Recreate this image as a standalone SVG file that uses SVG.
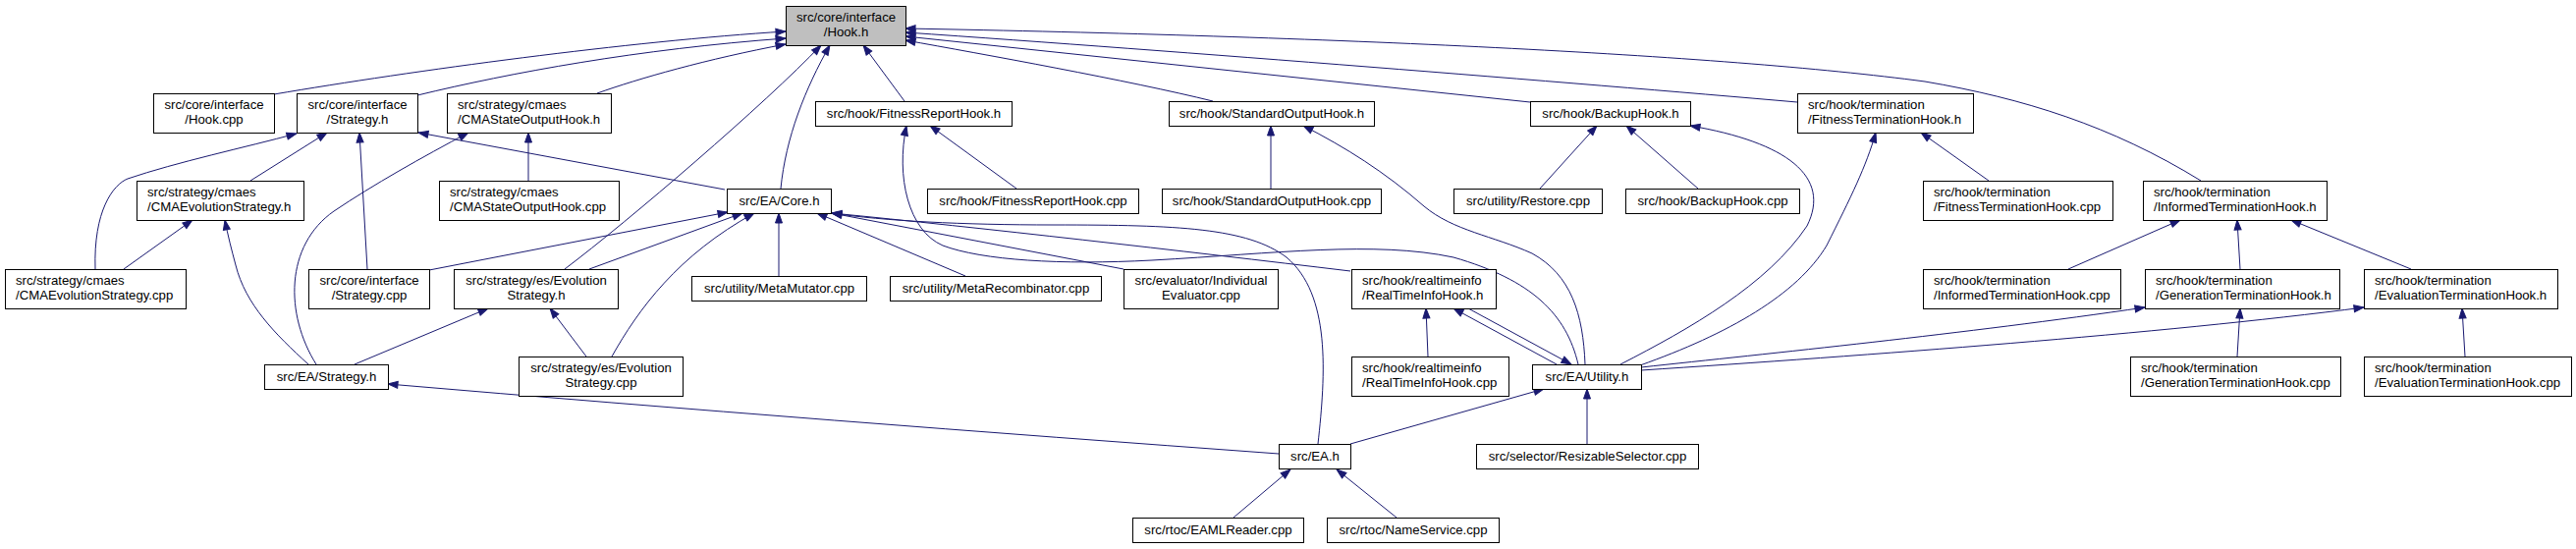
<svg xmlns="http://www.w3.org/2000/svg" width="2623" height="559" viewBox="0 0 2623 559">
<style>
.n rect{fill:#fff;stroke:#000;stroke-width:1}
.n.root rect{fill:#bfbfbf}
text{font-family:"Liberation Sans",Arial,Helvetica,sans-serif;font-size:13.2px;fill:#000}
.c{text-anchor:middle}
#edges path{fill:none;stroke:#191970;stroke-width:1;marker-end:url(#a)}
</style>
<defs>
<marker id="a" markerWidth="10" markerHeight="7" refX="10" refY="3.5" orient="auto" markerUnits="userSpaceOnUse" overflow="visible">
<path d="M0,0 L10,3.5 L0,7 z" fill="#191970" stroke="#191970" stroke-width="1"/>
</marker>
</defs>
<rect width="2623" height="559" fill="#fff"/>
<g id="edges">
<path d="M279,96 C420,72 640,42 800,32"/>
<path d="M425,97 C520,74 650,50 800,39"/>
<path d="M608,95 C650,80 720,60 800,45"/>
<path d="M575,274 C640,225 780,105 836,46"/>
<path d="M795,192 C800,140 820,90 845,46"/>
<path d="M921,103 L879,46"/>
<path d="M1235,103 C1150,82 1000,55 922,41"/>
<path d="M1558,104 L922,37"/>
<path d="M2241,184 C2150,128 2060,100 1960,83 C1750,55 1350,37 922,29"/>
<path d="M1830,104 C1600,84 1200,52 922,33"/>
<path d="M97,274 C95,215 115,188 130,182 C180,165 250,150 302,136"/>
<path d="M255,184 L333,135"/>
<path d="M374,274 L366,135"/>
<path d="M738,193 L426,135"/>
<path d="M538,184 L538,135"/>
<path d="M322,371 C290,320 290,250 340,215 C380,188 430,160 477,135"/>
<path d="M314,371 C280,340 250,310 240,270 C236,255 232,240 229,224"/>
<path d="M126,274 L196,224"/>
<path d="M361,371 L497,314"/>
<path d="M597,363 L560,314"/>
<path d="M1302,462 C1000,440 700,417 395,391"/>
<path d="M437,275 L741,216"/>
<path d="M600,274 L756,217"/>
<path d="M623,363 C650,315 690,260 768,217"/>
<path d="M793,281 L793,217"/>
<path d="M983,281 L832,217"/>
<path d="M1144,274 L847,217"/>
<path d="M1375,276 C1200,255 1000,232 847,217"/>
<path d="M1342,452 C1350,380 1355,300 1310,262 C1270,232 1200,229 1073,229 C980,229 900,225 847,217"/>
<path d="M1035,192 L947,128"/>
<path d="M1607,371 C1595,320 1560,285 1480,262 C1400,245 1300,258 1173,265 C1080,270 1000,265 960,250 C925,235 912,180 923,128"/>
<path d="M1294,192 L1294,128"/>
<path d="M1614,371 C1612,320 1600,280 1560,258 C1520,240 1480,235 1450,210 C1410,175 1370,150 1327,128"/>
<path d="M1568,192 L1626,128"/>
<path d="M1729,192 L1656,128"/>
<path d="M1650,371 C1720,335 1800,290 1840,230 C1865,180 1820,145 1721,128"/>
<path d="M2025,184 L1956,135"/>
<path d="M1670,372 C1760,340 1830,300 1860,250 C1885,200 1900,170 1910,135"/>
<path d="M2106,274 L2220,224"/>
<path d="M2281,274 L2278,224"/>
<path d="M2455,274 L2333,224"/>
<path d="M2278,363 L2281,314"/>
<path d="M2510,363 L2507,314"/>
<path d="M1671,374 C1800,360 2000,340 2184,313"/>
<path d="M1671,377 C1900,362 2200,340 2407,313"/>
<path d="M1454,363 L1452,314"/>
<path d="M1585,371 L1480,314"/>
<path d="M1495,314 L1600,371"/>
<path d="M1616,452 L1616,396"/>
<path d="M1375,452 L1572,396"/>
<path d="M1256,527 L1314,478"/>
<path d="M1422,527 L1361,478"/>
</g>
<g id="n1" class="n root"><rect x="800.5" y="6.5" width="122" height="40"/><text class="c" x="861.5" y="22">src/core/interface</text><text class="c" x="861.5" y="37">/Hook.h</text></g>
<g id="n2" class="n"><rect x="156.5" y="95.5" width="123" height="40"/><text class="c" x="218" y="111">src/core/interface</text><text class="c" x="218" y="126">/Hook.cpp</text></g>
<g id="n3" class="n"><rect x="302.5" y="95.5" width="123" height="40"/><text class="c" x="364" y="111">src/core/interface</text><text class="c" x="364" y="126">/Strategy.h</text></g>
<g id="n4" class="n"><rect x="455.5" y="95.5" width="167" height="40"/><text x="466" y="111">src/strategy/cmaes</text><text x="466" y="126">/CMAStateOutputHook.h</text></g>
<g id="n5" class="n"><rect x="139.5" y="184.5" width="170" height="40"/><text x="150" y="200">src/strategy/cmaes</text><text x="150" y="215">/CMAEvolutionStrategy.h</text></g>
<g id="n6" class="n"><rect x="447.5" y="184.5" width="183" height="40"/><text x="458" y="200">src/strategy/cmaes</text><text x="458" y="215">/CMAStateOutputHook.cpp</text></g>
<g id="n7" class="n"><rect x="5.5" y="274.5" width="184" height="40"/><text x="16" y="290">src/strategy/cmaes</text><text x="16" y="305">/CMAEvolutionStrategy.cpp</text></g>
<g id="n8" class="n"><rect x="314.5" y="274.5" width="123" height="40"/><text class="c" x="376" y="290">src/core/interface</text><text class="c" x="376" y="305">/Strategy.cpp</text></g>
<g id="n9" class="n"><rect x="462.5" y="274.5" width="167" height="40"/><text class="c" x="546" y="290">src/strategy/es/Evolution</text><text class="c" x="546" y="305">Strategy.h</text></g>
<g id="n10" class="n"><rect x="269.5" y="371.5" width="126" height="25"/><text class="c" x="332.5" y="388">src/EA/Strategy.h</text></g>
<g id="n11" class="n"><rect x="528.5" y="363.5" width="167" height="40"/><text class="c" x="612" y="379">src/strategy/es/Evolution</text><text class="c" x="612" y="394">Strategy.cpp</text></g>
<g id="n12" class="n"><rect x="830.5" y="103.5" width="200" height="25"/><text class="c" x="930.5" y="120">src/hook/FitnessReportHook.h</text></g>
<g id="n13" class="n"><rect x="740.5" y="192.5" width="106" height="25"/><text class="c" x="793.5" y="209">src/EA/Core.h</text></g>
<g id="n14" class="n"><rect x="944.5" y="192.5" width="215" height="25"/><text class="c" x="1052" y="209">src/hook/FitnessReportHook.cpp</text></g>
<g id="n15" class="n"><rect x="1190.5" y="103.5" width="209" height="25"/><text class="c" x="1295" y="120">src/hook/StandardOutputHook.h</text></g>
<g id="n16" class="n"><rect x="1183.5" y="192.5" width="223" height="25"/><text class="c" x="1295" y="209">src/hook/StandardOutputHook.cpp</text></g>
<g id="n17" class="n"><rect x="704.5" y="281.5" width="178" height="25"/><text class="c" x="793.5" y="298">src/utility/MetaMutator.cpp</text></g>
<g id="n18" class="n"><rect x="906.5" y="281.5" width="215" height="25"/><text class="c" x="1014" y="298">src/utility/MetaRecombinator.cpp</text></g>
<g id="n19" class="n"><rect x="1144.5" y="274.5" width="157" height="40"/><text class="c" x="1223" y="290">src/evaluator/Individual</text><text class="c" x="1223" y="305">Evaluator.cpp</text></g>
<g id="n20" class="n"><rect x="1558.5" y="103.5" width="163" height="25"/><text class="c" x="1640" y="120">src/hook/BackupHook.h</text></g>
<g id="n21" class="n"><rect x="1480.5" y="192.5" width="151" height="25"/><text class="c" x="1556" y="209">src/utility/Restore.cpp</text></g>
<g id="n22" class="n"><rect x="1655.5" y="192.5" width="177" height="25"/><text class="c" x="1744" y="209">src/hook/BackupHook.cpp</text></g>
<g id="n23" class="n"><rect x="1830.5" y="95.5" width="179" height="40"/><text x="1841" y="111">src/hook/termination</text><text x="1841" y="126">/FitnessTerminationHook.h</text></g>
<g id="n24" class="n"><rect x="1958.5" y="184.5" width="193" height="40"/><text x="1969" y="200">src/hook/termination</text><text x="1969" y="215">/FitnessTerminationHook.cpp</text></g>
<g id="n25" class="n"><rect x="2182.5" y="184.5" width="187" height="40"/><text x="2193" y="200">src/hook/termination</text><text x="2193" y="215">/InformedTerminationHook.h</text></g>
<g id="n26" class="n"><rect x="1376.5" y="274.5" width="147" height="40"/><text x="1387" y="290">src/hook/realtimeinfo</text><text x="1387" y="305">/RealTimeInfoHook.h</text></g>
<g id="n27" class="n"><rect x="1376.5" y="363.5" width="160" height="40"/><text x="1387" y="379">src/hook/realtimeinfo</text><text x="1387" y="394">/RealTimeInfoHook.cpp</text></g>
<g id="n28" class="n"><rect x="1560.5" y="371.5" width="111" height="25"/><text class="c" x="1616" y="388">src/EA/Utility.h</text></g>
<g id="n29" class="n"><rect x="1958.5" y="274.5" width="201" height="40"/><text x="1969" y="290">src/hook/termination</text><text x="1969" y="305">/InformedTerminationHook.cpp</text></g>
<g id="n30" class="n"><rect x="2184.5" y="274.5" width="198" height="40"/><text x="2195" y="290">src/hook/termination</text><text x="2195" y="305">/GenerationTerminationHook.h</text></g>
<g id="n31" class="n"><rect x="2407.5" y="274.5" width="197" height="40"/><text x="2418" y="290">src/hook/termination</text><text x="2418" y="305">/EvaluationTerminationHook.h</text></g>
<g id="n32" class="n"><rect x="2169.5" y="363.5" width="214" height="40"/><text x="2180" y="379">src/hook/termination</text><text x="2180" y="394">/GenerationTerminationHook.cpp</text></g>
<g id="n33" class="n"><rect x="2407.5" y="363.5" width="211" height="40"/><text x="2418" y="379">src/hook/termination</text><text x="2418" y="394">/EvaluationTerminationHook.cpp</text></g>
<g id="n34" class="n"><rect x="1302.5" y="452.5" width="73" height="25"/><text class="c" x="1339" y="469">src/EA.h</text></g>
<g id="n35" class="n"><rect x="1503.5" y="452.5" width="226" height="25"/><text class="c" x="1616.5" y="469">src/selector/ResizableSelector.cpp</text></g>
<g id="n36" class="n"><rect x="1153.5" y="527.5" width="174" height="25"/><text class="c" x="1240.5" y="544">src/rtoc/EAMLReader.cpp</text></g>
<g id="n37" class="n"><rect x="1351.5" y="527.5" width="175" height="25"/><text class="c" x="1439" y="544">src/rtoc/NameService.cpp</text></g>
</svg>
